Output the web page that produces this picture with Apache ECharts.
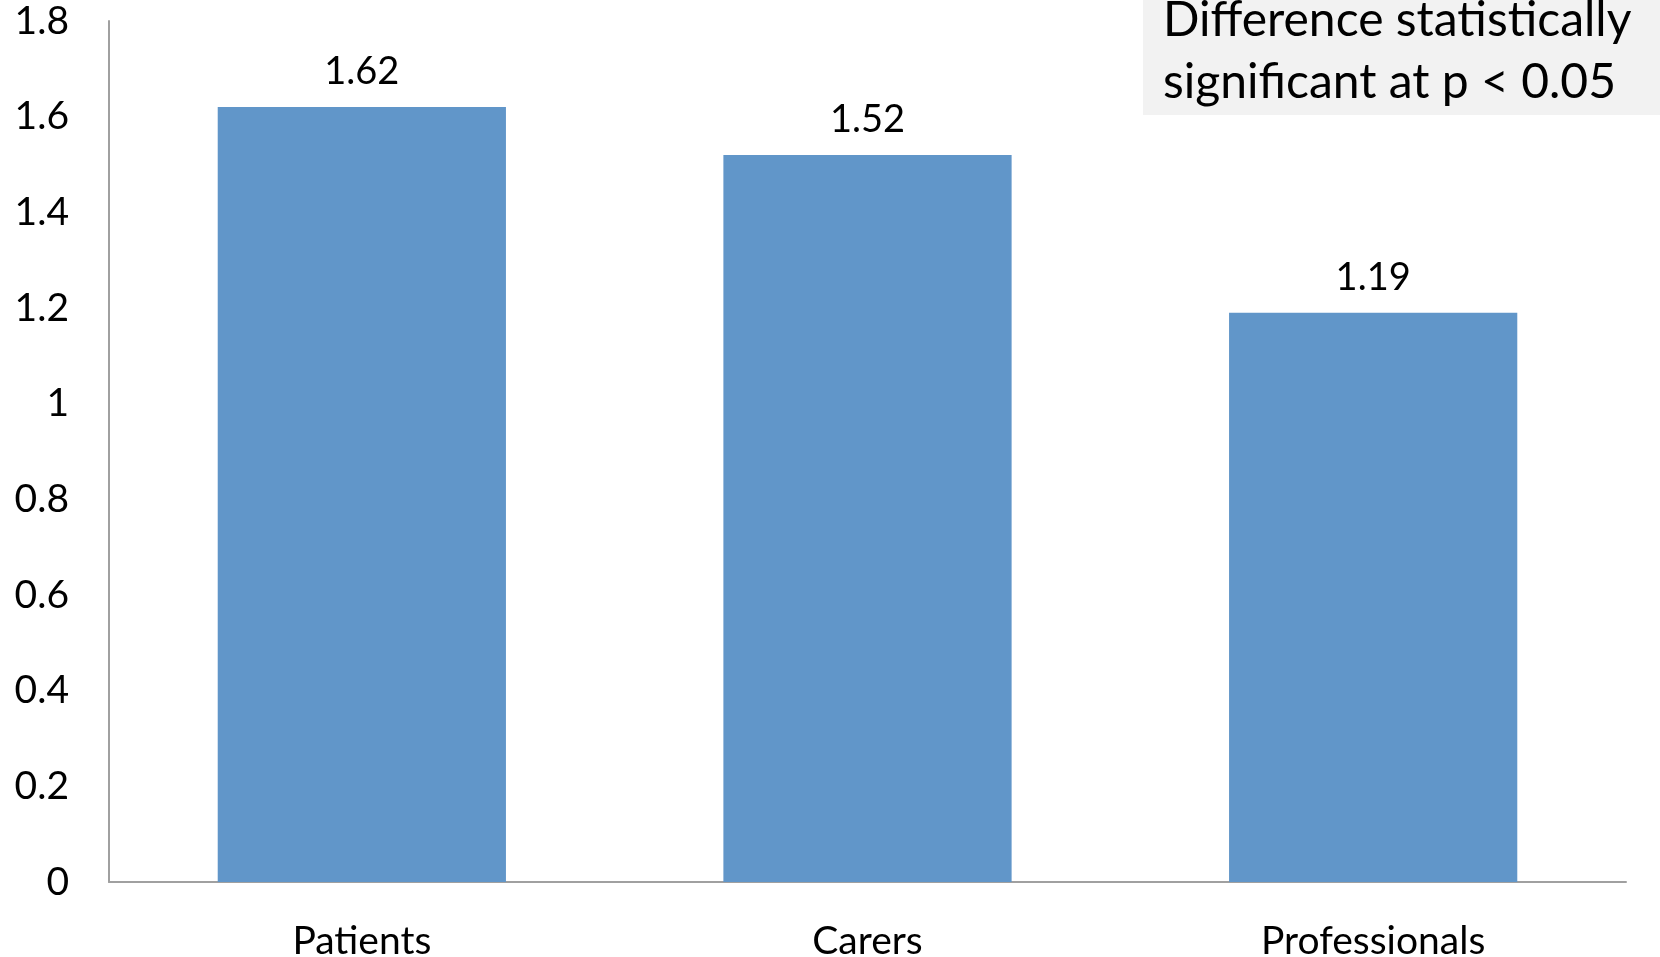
<!DOCTYPE html>
<html><head><meta charset="utf-8">
<script src="https://cdn.jsdelivr.net/npm/echarts@6/dist/echarts.min.js"></script>
<style>html,body{margin:0;padding:0;background:#fff}#c{width:1660px;height:957px}</style>
</head><body><div id="c"></div>
<script>
const categories = ['Patients', 'Carers', 'Professionals'];
const values = [1.62, 1.52, 1.19];
const yTicks = { min: 0, max: 1.8, interval: 0.2 };
const noteLines = ['Difference statistically', 'significant at p < 0.05'];

const FONT = 'Lato, "Open Sans", sans-serif';
const chart = echarts.init(document.getElementById('c'));
chart.setOption({
  animation: false,
  backgroundColor: '#ffffff',
  grid: { left: 109, right: 34, top: 21, bottom: 75, outerBoundsMode: 'none', containLabel: false },
  xAxis: {
    type: 'category', data: categories,
    axisLine: { lineStyle: { color: '#a0a0a0', width: 2 } },
    axisTick: { show: false },
    axisLabel: { color: '#000', fontSize: 39, fontFamily: FONT, margin: 40 }
  },
  yAxis: {
    type: 'value', min: yTicks.min, max: yTicks.max, interval: yTicks.interval,
    axisLine: { show: true, lineStyle: { color: '#a0a0a0', width: 2 } },
    axisTick: { show: false },
    splitLine: { show: false },
    axisLabel: { color: '#000', fontSize: 39, fontFamily: FONT, margin: 40, padding: [12, 0, 0, 0] }
  },
  series: [{
    type: 'bar', data: values, barWidth: '57%',
    itemStyle: { color: '#6196c9' },
    label: { show: true, position: 'top', distance: 16, color: '#000', fontSize: 38, fontFamily: FONT }
  }],
  graphic: [{
    type: 'group', x: 1143, y: 0,
    children: [
      { type: 'rect', shape: { x: 0, y: 0, width: 517, height: 115 }, style: { fill: '#f2f2f2' } },
      { type: 'text', x: 20, y: -10, style: { text: noteLines.join('\n'), fontSize: 48, lineHeight: 62, fontFamily: FONT, fill: '#000' } }
    ]
  }]
});
</script></body></html>
